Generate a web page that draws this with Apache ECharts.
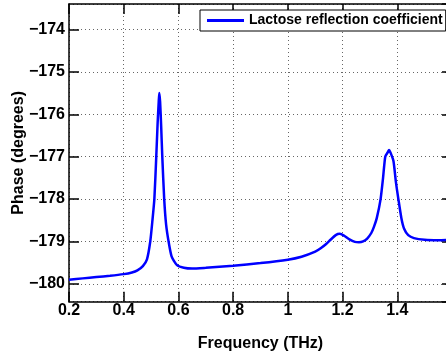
<!DOCTYPE html>
<html>
<head>
<meta charset="utf-8">
<script src="https://cdn.jsdelivr.net/npm/echarts@6/dist/echarts.min.js"></script>
<style>
  html, body { margin: 0; padding: 0; background: #fff; }
  #chart { width: 446px; height: 351px; }
</style>
</head>
<body>
<div id="chart"></div>
<script>
// frequency (THz) and phase (degrees)
var freq = [0.2, 0.25, 0.3, 0.35, 0.4, 0.43, 0.45, 0.47, 0.485, 0.497, 0.505, 0.512, 0.519, 0.524, 0.528, 0.530,
            0.533, 0.537, 0.541, 0.548, 0.555, 0.564, 0.575, 0.594, 0.62, 0.65, 0.7, 0.8, 0.9, 1.0, 1.05, 1.1,
            1.12, 1.14, 1.156, 1.175, 1.19, 1.205, 1.225, 1.245, 1.26, 1.275, 1.29, 1.305, 1.315, 1.325, 1.339,
            1.348, 1.356, 1.365, 1.37, 1.375, 1.386, 1.395, 1.404, 1.415, 1.425, 1.44, 1.461, 1.5, 1.55, 1.6];
var phase = [-179.90, -179.87, -179.84, -179.81, -179.77, -179.73, -179.68, -179.58, -179.42, -179.0, -178.5, -178.0, -177.0, -176.2, -175.7, -175.5,
             -175.7, -176.3, -177.0, -178.0, -178.6, -179.0, -179.35, -179.55, -179.62, -179.64, -179.62, -179.57, -179.51, -179.43, -179.36, -179.24,
             -179.16, -179.06, -178.96, -178.85, -178.82, -178.86, -178.95, -179.01, -179.02, -179.0, -178.93, -178.8, -178.65, -178.45, -178.0,
             -177.5, -177.0, -176.9, -176.84, -176.9, -177.1, -177.6, -178.0, -178.45, -178.7, -178.85, -178.92, -178.96, -178.97, -178.96];
var seriesName = 'Lactose reflection coefficient';

var pts = [];
for (var i = 0; i < freq.length; i++) {
    pts.push([freq[i], phase[i]]);
}

var font = 'Liberation Sans, Arial, Helvetica, sans-serif';
var black = '#000';
var gridLine = { show: true, lineStyle: { color: '#666', width: 1, type: [1, 3] } };

var chart = echarts.init(document.getElementById('chart'));
var option = {
    animation: false,
    backgroundColor: '#fff',
    grid: { left: 69, top: 4, right: -6, bottom: 49.3, containLabel: false, outerBoundsMode: 'none' },
    legend: {
        left: 200, top: 10,
        data: [{ name: seriesName, icon: 'rect' }],
        backgroundColor: '#fff',
        borderColor: black, borderWidth: 1, borderRadius: 0,
        padding: [3, 3, 3, 7],
        itemWidth: 37, itemHeight: 3,
        textStyle: { fontFamily: font, fontWeight: 'bold', fontSize: 14, color: black, lineHeight: 15 }
    },
    xAxis: [{
        type: 'value', min: 0.2, max: 1.6, interval: 0.2,
        name: 'Frequency (THz)', nameLocation: 'middle', nameGap: 34, nameMoveOverlap: false,
        nameTextStyle: { fontFamily: font, fontWeight: 'bold', fontSize: 16, color: black },
        axisLine: { show: true, onZero: false, lineStyle: { color: black, width: 1.5 } },
        axisTick: { show: true, inside: true, length: 10, lineStyle: { color: black, width: 1.5 } },
        axisLabel: { fontFamily: font, fontWeight: 'bold', fontSize: 16, color: black, margin: 1, showMaxLabel: false },
        splitLine: gridLine
    }, {
        type: 'value', min: 0.2, max: 1.6, interval: 0.2, position: 'top',
        axisLine: { show: true, onZero: false, lineStyle: { color: black, width: 1.5 } },
        axisTick: { show: true, inside: true, length: 10, lineStyle: { color: black, width: 1.5 } },
        axisLabel: { show: false },
        splitLine: { show: false }
    }],
    yAxis: [{
        type: 'value', min: -180.42, max: -173.4, splitNumber: 7, minInterval: 1, maxInterval: 1,
        name: 'Phase (degrees)', nameLocation: 'middle', nameGap: 42, nameMoveOverlap: false,
        nameTextStyle: { fontFamily: font, fontWeight: 'bold', fontSize: 16, color: black },
        axisLine: { show: true, onZero: false, lineStyle: { color: black, width: 1.5 } },
        axisTick: { show: true, inside: true, length: 10, lineStyle: { color: black, width: 1.5 } },
        axisLabel: {
            fontFamily: font, fontWeight: 'bold', fontSize: 16, color: black, margin: 4,
            showMinLabel: false, showMaxLabel: false,
            formatter: function (v) { return String(v).replace('-', '\u2212'); }
        },
        splitLine: gridLine
    }, {
        type: 'value', min: -180.42, max: -173.4, splitNumber: 7, minInterval: 1, maxInterval: 1, position: 'right',
        axisLine: { show: true, onZero: false, lineStyle: { color: black, width: 1.5 } },
        axisTick: { show: true, inside: true, length: 10, lineStyle: { color: black, width: 1.5 } },
        axisLabel: { show: false },
        splitLine: { show: false }
    }],
    series: [{
        name: seriesName,
        type: 'line',
        xAxisIndex: 0, yAxisIndex: 0,
        data: pts,
        symbol: 'none',
        smooth: 0.2,
        lineStyle: { color: '#0000ff', width: 2.5 },
        itemStyle: { color: '#0000ff' }
    }]
};
chart.setOption(option);
</script>
</body>
</html>
